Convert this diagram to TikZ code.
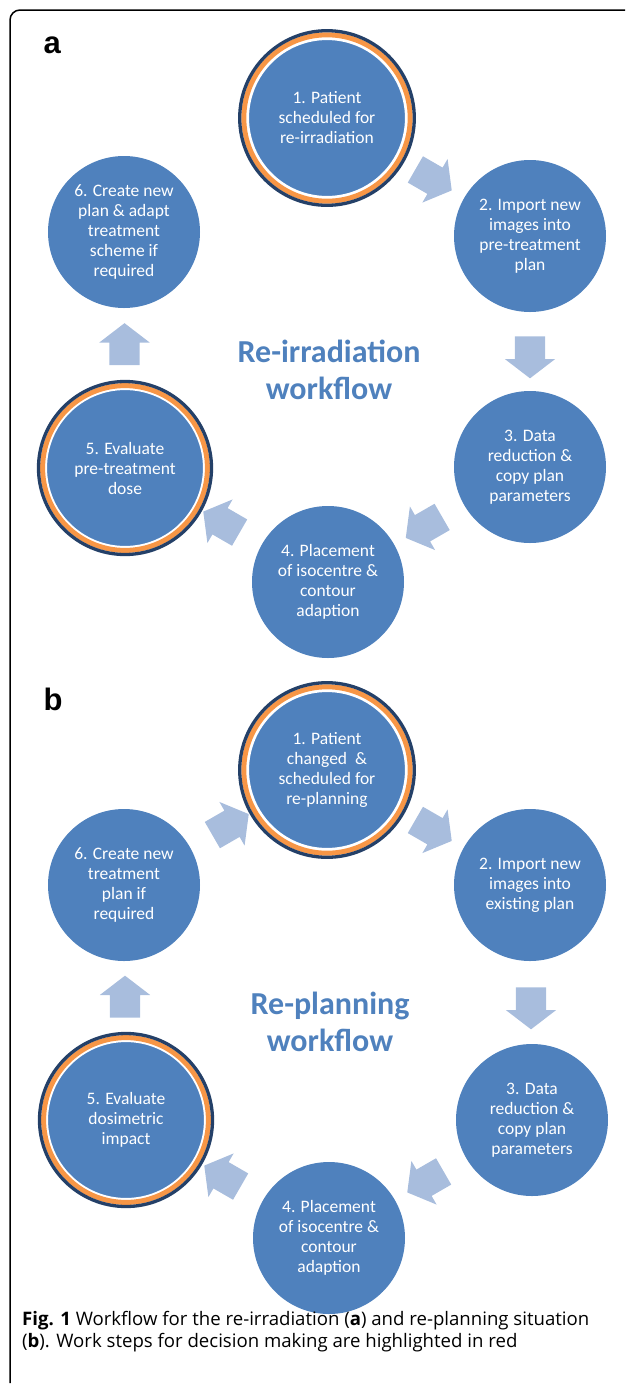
\documentclass[tikz,border=0pt]{standalone}
\usepackage{fontspec}
\setmainfont{Carlito}
\newfontfamily\panelfont{Liberation Sans}
\newfontfamily\capfont{Open Sans}
\usetikzlibrary{shapes.arrows}
\usetikzlibrary{calc}

\definecolor{stepblue}{RGB}{79,129,189}
\definecolor{ringnavy}{RGB}{36,64,104}
\definecolor{ringorange}{RGB}{247,150,70}
\definecolor{arrowblue}{RGB}{168,189,221}

\tikzset{
	stepnode/.style={circle, fill=stepblue, minimum size=152pt, inner sep=0pt, align=center, text=white, font=\fontsize{17.5}{20}\selectfont},
	keynode/.style={stepnode, minimum size=158.6pt, draw=white, line width=2.7pt},
	orangering/.style={ringorange, line width=5pt},
	navyring/.style={ringnavy, line width=3.3pt},
	cyclearrow/.style={single arrow, fill=arrowblue, draw=none, inner sep=0pt, text width=0pt, text height=15pt, text depth=15pt, minimum height=42pt, single arrow head extend=10pt, single arrow head indent=0pt, single arrow tip angle=105},
	titletext/.style={align=center, text=stepblue, font=\bfseries\fontsize{32}{37}\selectfont},
	panellabel/.style={anchor=base west, font=\panelfont\bfseries\fontsize{31}{31}\selectfont}
}

\begin{document}
\begin{tikzpicture}[x=1pt, y=-1pt]
	\useasboundingbox (0,0) rectangle (625,1385);

	%frame
	\draw[line width=1.5pt, rounded corners=10pt] (625,10) -- (10,10) -- (10,1383);

	%panel a
	\node[panellabel] (labela) at (40,53) {a};
	\node[titletext] (titlea) at (329,370) {Re-irradiation\\workflow};

	%steps a
	\node[keynode] (a1) at (327,118) {1. Patient\\scheduled for\\re-irradiation};
	\node[stepnode] (a2) at (530,236) {2. Import new\\images into\\pre-treatment\\plan};
	\node[stepnode] (a3) at (530,467) {3. Data\\reduction \&\\copy plan\\parameters};
	\node[stepnode] (a4) at (328,582) {4. Placement\\of isocentre \&\\contour\\adaption};
	\node[keynode] (a5) at (125,468) {5. Evaluate\\pre-treatment\\dose};
	\node[stepnode] (a6) at (124,232) {6. Create new\\plan \& adapt\\treatment\\scheme if\\required};
	%decision rings a
	\draw[orangering] (a1.center) circle (83.2pt);
	\draw[navyring] (a1.center) circle (87.3pt);
	\draw[orangering] (a5.center) circle (82.4pt);
	\draw[navyring] (a5.center) circle (86.5pt);

	%cycle arrows a
	\node[cyclearrow, rotate=-30] (a12) at ($(a1)!0.5!(a2)$) {};
	\node[cyclearrow, rotate=-90] (a23) at ($(a2)!0.5!(a3)$) {};
	\node[cyclearrow, rotate=-150] (a34) at ($(a3)!0.5!(a4)$) {};
	\node[cyclearrow, rotate=150] (a45) at ($(a4)!0.5!(a5)$) {};
	\node[cyclearrow, rotate=90] (a56) at ($(a5)!0.5!(a6)$) {};

	%panel b
	\node[panellabel] (labelb) at (40,710) {b};
	\node[titletext] (titleb) at (330,1022) {Re-planning\\workflow};

	%steps b
	\node[keynode] (b1) at (327,770) {1. Patient\\changed\ \ \&\\scheduled for\\re-planning};
	\node[stepnode] (b2) at (530,885) {2. Import new\\images into\\existing plan};
	\node[stepnode] (b3) at (532,1120) {3. Data\\reduction \&\\copy plan\\parameters};
	\node[stepnode] (b4) at (329,1238) {4. Placement\\of isocentre \&\\contour\\adaption};
	\node[keynode] (b5) at (126,1120) {5. Evaluate\\dosimetric\\impact};
	\node[stepnode] (b6) at (124,885) {6. Create new\\treatment\\plan if\\required};
	%decision rings b
	\draw[orangering] (b1.center) circle (83.2pt);
	\draw[navyring] (b1.center) circle (87.3pt);
	\draw[orangering] (b5.center) circle (82.4pt);
	\draw[navyring] (b5.center) circle (86.5pt);

	%cycle arrows b
	\node[cyclearrow, rotate=-30] (b12) at ($(b1)!0.5!(b2)$) {};
	\node[cyclearrow, rotate=-90] (b23) at ($(b2)!0.5!(b3)$) {};
	\node[cyclearrow, rotate=-150] (b34) at ($(b3)!0.5!(b4)$) {};
	\node[cyclearrow, rotate=150] (b45) at ($(b4)!0.5!(b5)$) {};
	\node[cyclearrow, rotate=90] (b56) at ($(b5)!0.5!(b6)$) {};
	\node[cyclearrow, rotate=30] (b61) at ($(b6)!0.5!(b1)$) {};

	%caption
	\node[anchor=base west, align=left, inner sep=0pt, font=\capfont\fontsize{18.6}{22}\selectfont] (caption) at (22,1347)
		{\textbf{Fig. 1} Workflow for the re-irradiation (\textbf{a}) and re-planning situation\\(\textbf{b}). Work steps for decision making are highlighted in red};
\end{tikzpicture}
\end{document}
